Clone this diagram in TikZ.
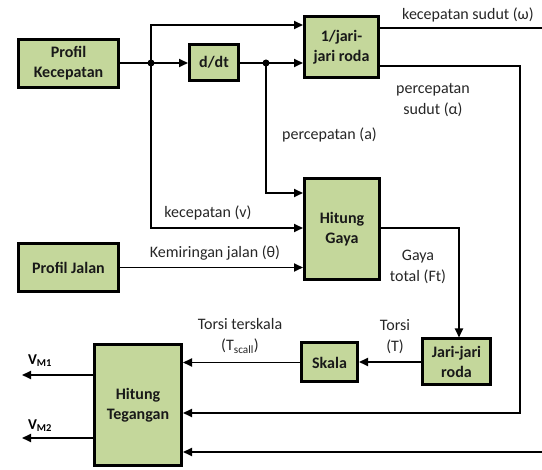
\documentclass[tikz,border=0pt]{standalone}
\usepackage{fontspec}
\setmainfont{Carlito}
\usetikzlibrary{arrows.meta}
\definecolor{boxgreen}{HTML}{C4D79B}
\definecolor{lbltext}{HTML}{262626}
\begin{document}
\begin{tikzpicture}[x=1pt,y=-1pt,
  blok/.style={draw=black, line width=3pt, fill=boxgreen, font=\bfseries\fontsize{16}{20}\selectfont, align=center, inner sep=0pt, text=black!90},
  conn/.style={line width=1.8pt},
  arr/.style={conn, -{Triangle[length=9pt,width=8pt]}},
  lbl/.style={font=\fontsize{16}{21}\selectfont, align=center, text=lbltext, inner sep=0pt},
  jdot/.style={circle, fill=black, inner sep=0pt, minimum size=7pt}]
\useasboundingbox (0,0) rectangle (542,470);
% blocks
\node[blok, minimum width=100pt, minimum height=48pt] (pk) at (68.5,63.5) {Profil\\Kecepatan};
\node[blok, minimum width=49pt, minimum height=36pt] (ddt) at (214,62.5) {d/dt};
\node[blok, minimum width=74pt, minimum height=61pt] (jr1) at (341.5,47) {1/jari-\\jari roda};
\node[blok, minimum width=75pt, minimum height=101pt] (hg) at (342,229) {Hitung\\Gaya};
\node[blok, minimum width=100pt, minimum height=48pt] (pj) at (68.5,267.5) {Profil Jalan};
\node[blok, minimum width=68pt, minimum height=46pt] (jj) at (456.5,362) {Jari-jari\\roda};
\node[blok, minimum width=56pt, minimum height=39pt] (sk) at (329.5,362.5) {Skala};
\node[blok, minimum width=87pt, minimum height=121pt] (ht) at (138,405) {Hitung\\Tegangan};
% coordinates
\coordinate (d1) at (151,63);
\coordinate (d2) at (266,63);
\coordinate (t1) at (151,25);
\coordinate (a1) at (266,193);
\coordinate (v1) at (151,228);
\coordinate (w1) at (542,28);
\coordinate (al1) at (520,66);
\coordinate (al2) at (520,413);
\coordinate (f1) at (459,228);
\coordinate (e2) at (542,452);
\coordinate (o1) at (22,375);
\coordinate (o2) at (22,438);
% connectors
\draw[conn] (pk.east |- d1) -- (d1);
\draw[arr] (d1) -- (d1 -| ddt.west);
\draw[arr] (d1) -- (t1) -- (t1 -| jr1.west);
\draw[conn] (ddt.east |- d2) -- (d2);
\draw[arr] (d2) -- (d2 -| jr1.west);
\draw[arr] (d2) -- (a1) -- (a1 -| hg.west);
\draw[arr] (d1) -- (v1) -- (v1 -| hg.west);
\draw[arr] (pj.east) -- (pj.east -| hg.west);
\draw[conn] (w1 -| jr1.east) -- (w1);
\draw[arr] (al1 -| jr1.east) -- (al1) -- (al2) -- (al2 -| ht.east);
\draw[arr] (f1 -| hg.east) -- (f1) -- (f1 |- jj.north);
\draw[arr] (jj.west) -- (jj.west -| sk.east);
\draw[arr] (sk.west) -- (sk.west -| ht.east);
\draw[arr] (e2) -- (e2 -| ht.east);
\draw[arr] (o1 -| ht.west) -- (o1);
\draw[arr] (o2 -| ht.west) -- (o2);
\node[jdot] (j1) at (d1) {};
\node[jdot] (j2) at (d2) {};
% labels
\node[lbl] (l1) at (468,15) {kecepatan sudut (ω)};
\node[lbl] (l2) at (433,100) {percepatan\\sudut (α)};
\node[lbl] (l3) at (329.5,135) {percepatan (a)};
\node[lbl] (l4) at (208,213) {kecepatan (v)};
\node[lbl] (l5) at (215,253) {Kemiringan jalan (θ)};
\node[lbl] (l6) at (418,267) {Gaya\\total (Ft)};
\node[lbl] (l7) at (395,337) {Torsi\\(T)};
\node[lbl] (l8) at (240,336) {Torsi terskala\\(T\textsubscript{scall})};
\node[lbl, font=\bfseries\fontsize{15}{18}\selectfont, text=black] (l9) at (40,361) {V\textsubscript{M1}};
\node[lbl, font=\bfseries\fontsize{15}{18}\selectfont, text=black] (l10) at (40,426) {V\textsubscript{M2}};
\end{tikzpicture}
\end{document}
